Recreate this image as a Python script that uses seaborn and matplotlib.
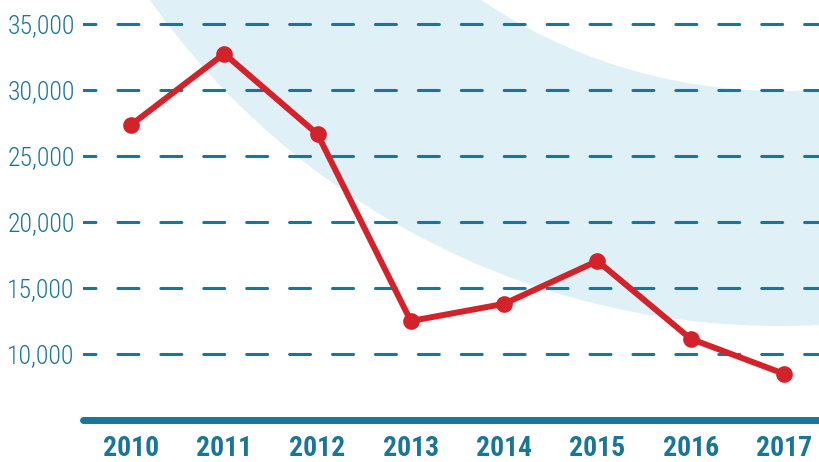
import matplotlib
matplotlib.use("Agg")
import pandas as pd
import matplotlib.pyplot as plt
import seaborn as sns
from matplotlib.patches import Wedge
from matplotlib.ticker import FuncFormatter

# values
years = [2010, 2011, 2012, 2013, 2014, 2015, 2016, 2017]
counts = [27350, 32750, 26650, 12500, 13800, 17050, 11150, 8500]
y_ticks = [10000, 15000, 20000, 25000, 30000, 35000]

TEAL = "#1b7595"
RED = "#d3222a"
BAND = "#dff0f7"

sns.set_style("white")
plt.rcParams["lines.scale_dashes"] = False
plt.rcParams["font.family"] = ["Roboto Condensed", "DejaVu Sans"]

df = pd.DataFrame({"Year": years, "Count": counts})

fig = plt.figure(figsize=(8.2, 4.62), dpi=100)
ax = fig.add_axes([0.1012, 0.0909, 0.8988, 0.9091])

# soft background arc (figure inches)
band = Wedge((7.80, 9.08), 7.72, 0, 360, width=2.35, facecolor=BAND,
             edgecolor="none", transform=fig.dpi_scale_trans, zorder=0)
band.set_clip_on(False)
ax.add_patch(band)

sns.lineplot(data=df, x="Year", y="Count", ax=ax, color=RED, linewidth=4.3,
             marker="o", markersize=12, markeredgewidth=0, zorder=3)
ax.lines[-1].set_solid_joinstyle("round")

ax.set_xlim(2009.486, 2017.386)
ax.set_ylim(5000, 36818)
ax.set_xticks(years)
ax.set_yticks(y_ticks)
ax.yaxis.set_major_formatter(FuncFormatter(lambda v, _: f"{v:,.0f}"))

ax.grid(axis="y", color=TEAL, linewidth=2.2, linestyle=(6.1, (15.1, 15.8)))
ax.grid(axis="x", visible=False)
for gl in ax.get_ygridlines():
    gl.set_dash_capstyle("round")
    gl.set_zorder(1)

for side in ["top", "right", "left"]:
    ax.spines[side].set_visible(False)
ax.spines["bottom"].set_color(TEAL)
ax.spines["bottom"].set_linewidth(5)
ax.spines["bottom"].set_capstyle("round")

ax.tick_params(axis="both", length=0)
ax.tick_params(axis="y", pad=6, labelcolor=TEAL, labelsize=18.5)
ax.tick_params(axis="x", pad=11, labelcolor=TEAL, labelsize=20)
for lbl in ax.get_yticklabels():
    lbl.set_fontweight(300)
for lbl in ax.get_xticklabels():
    lbl.set_fontweight(800)

ax.set_xlabel("")
ax.set_ylabel("")

fig.savefig("out.png", dpi=100)
